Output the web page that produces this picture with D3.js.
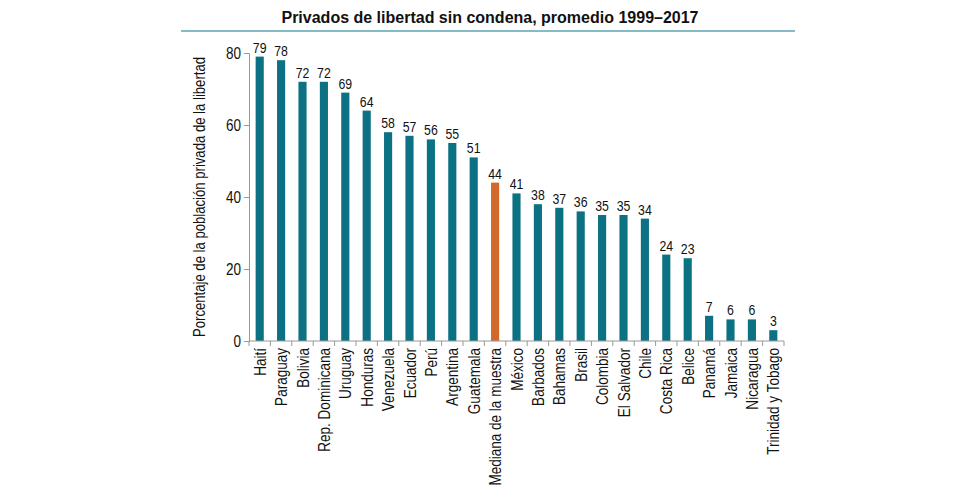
<!DOCTYPE html>
<html><head><meta charset="utf-8">
<script src="https://cdn.jsdelivr.net/npm/d3@7"></script>
<style>body{margin:0;background:#fff}svg{display:block}text{font-family:"Liberation Sans",Arial,sans-serif}</style>
</head><body><svg id="c" width="980" height="490"></svg>
<script>
const categories = ["Haití","Paraguay","Bolivia","Rep. Dominicana","Uruguay","Honduras","Venezuela","Ecuador","Perú","Argentina","Guatemala","Mediana de la muestra","México","Barbados","Bahamas","Brasil","Colombia","El Salvador","Chile","Costa Rica","Belice","Panamá","Jamaica","Nicaragua","Trinidad y Tobago"];
const values = [79,78,72,72,69,64,58,57,56,55,51,44,41,38,37,36,35,35,34,24,23,7,6,6,3];
const highlight = ["Mediana de la muestra"];
const yTicks = [0,20,40,60,80];
const title = "Privados de libertad sin condena, promedio 1999–2017";
const yTitle = "Porcentaje de la población privada de la libertad";

const svg = d3.select("#c");
const x = d3.scaleBand().domain(categories).range([249,784]).paddingInner(0.62).paddingOuter(0.31);
const y = d3.scaleLinear().domain([0,80]).range([341,53]);
const SX = 0.82; // condensed look

svg.append("text").attr("x",490).attr("y",23).attr("text-anchor","middle")
  .style("font-weight","bold").style("font-size","16px").attr("fill","#111").text(title);
svg.append("line").attr("x1",181).attr("x2",795).attr("y1",31).attr("y2",31).attr("stroke","#5aa6b4").attr("stroke-width",1.5);

svg.append("g").selectAll("rect").data(categories).join("rect")
  .attr("x",d=>x(d)).attr("width",x.bandwidth())
  .attr("y",(d,i)=>y(values[i])).attr("height",(d,i)=>y(0)-y(values[i]))
  .attr("fill",d=>highlight.includes(d)?"#d2692c":"#0c7283");

svg.append("g").selectAll("text").data(categories).join("text")
  .attr("transform",(d,i)=>`translate(${x(d)+x.bandwidth()/2},${y(values[i])-4}) scale(${SX},1)`)
  .attr("text-anchor","middle").style("font-size","15px").attr("fill","#111")
  .text((d,i)=>values[i]);

// y axis
const ya = svg.append("g").attr("transform","translate(249,0)")
  .call(d3.axisLeft(y).tickValues(yTicks).tickSize(5).tickPadding(0));
ya.select(".domain").attr("stroke","#999");
ya.selectAll(".tick line").attr("stroke","#999");
ya.selectAll(".tick text").attr("x",null).attr("transform",`translate(-8,0) scale(${SX},1)`)
  .style("font-size","16.5px").attr("fill","#111");

// x axis
const xa = svg.append("g").attr("transform","translate(0,341)");
xa.append("line").attr("x1",249).attr("x2",784).attr("stroke","#999");
const bounds = d3.range(categories.length+1).map(i=>x.range()[0]+i*(x.range()[1]-x.range()[0])/categories.length);
xa.selectAll("line.t").data(bounds).join("line").attr("class","t")
  .attr("x1",d=>d).attr("x2",d=>d).attr("y1",0).attr("y2",5).attr("stroke","#999");
xa.selectAll("text").data(categories).join("text")
  .attr("transform",d=>`translate(${x(d)+x.bandwidth()/2+6},7) rotate(-90) scale(${SX},1)`)
  .attr("text-anchor","end").style("font-size","16.5px").attr("fill","#111").text(d=>d);

svg.append("text").attr("transform",`translate(205,197) rotate(-90) scale(${SX},1)`).attr("text-anchor","middle")
  .style("font-size","16px").attr("fill","#111").text(yTitle);
</script></body></html>
